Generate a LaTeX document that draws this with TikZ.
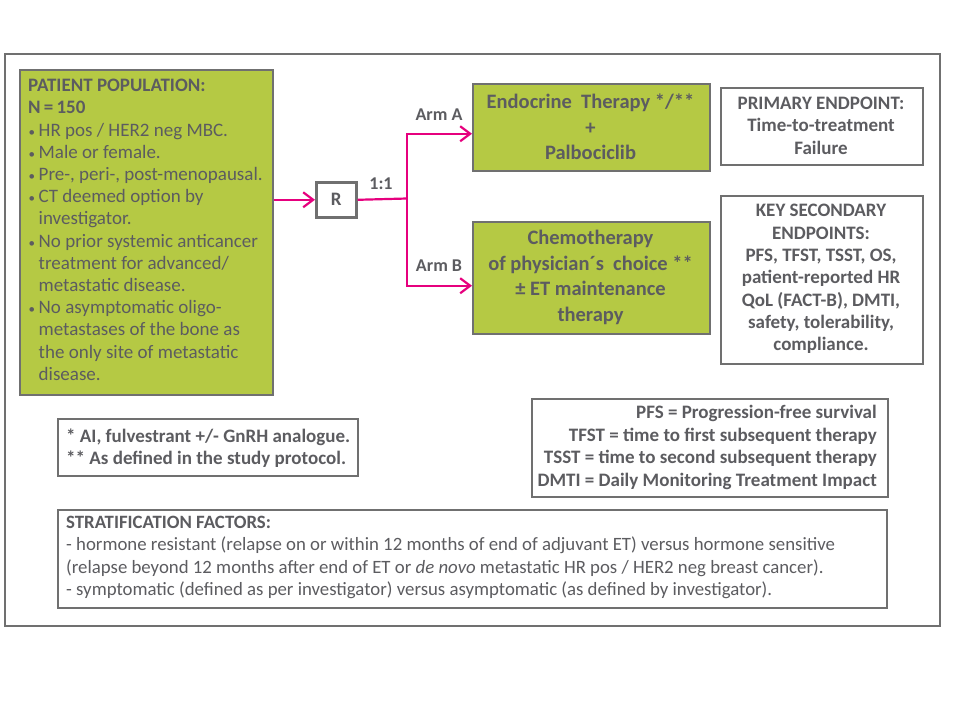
\documentclass[tikz,border=0pt]{standalone}
\usepackage{fontspec}
\setmainfont{Carlito}
\usetikzlibrary{arrows.meta}
\definecolor{grn}{RGB}{181,201,68}
\definecolor{bord}{RGB}{112,112,112}
\definecolor{txt}{RGB}{92,92,96}
\definecolor{mag}{RGB}{230,0,126}
\newcommand{\bl}{\makebox[10.5pt][l]{\hspace{0.5pt}\fontsize{13}{13}\selectfont •}}
\newcommand{\ind}{\hspace*{10.5pt}}
\begin{document}
\begin{tikzpicture}[x=1pt,y=-1pt,
  box/.style={draw=bord,line width=1.5pt,inner sep=0pt,anchor=north west},
  gbox/.style={box,fill=grn},
  wbox/.style={box,fill=white},
  tnode/.style={text=txt,inner sep=0pt},
  lnk/.style={draw=mag,line width=2.2pt},
  arr/.style={lnk,-{Straight Barb[length=10pt,width=15pt,line width=2.2pt]}},
  ]
\useasboundingbox (0,0) rectangle (960,720);
\node[box,minimum width=935pt,minimum height=572pt] (frame) at (4,53) {};
% patient population
\node[gbox,minimum width=253pt,minimum height=325pt] (pat) at (19,69) {};
\node[tnode,anchor=north west,align=left,font=\fontsize{19}{22.2}\selectfont] (pattxt) at (28,79)
 {\textbf{PATIENT POPULATION:}\\
  \textbf{N\,=\,150}\\
  \bl HR pos / HER2 neg MBC.\\
  \bl Male or female.\\
  \bl Pre-, peri-, post-menopausal.\\
  \bl CT deemed option by\\
  \ind investigator.\\
  \bl No prior systemic anticancer\\
  \ind treatment for advanced/\\
  \ind metastatic disease.\\
  \bl No asymptomatic oligo-\\
  \ind metastases of the bone as\\
  \ind the only site of metastatic\\
  \ind disease.};
% R
\node[wbox,line width=2.6pt,minimum width=40pt,minimum height=35pt,font=\bfseries\fontsize{19}{20}\selectfont,text=txt] (R) at (315,181) {R};
% arms
\node[gbox,minimum width=237pt,minimum height=87pt] (armA) at (472,83) {};
\node[tnode,align=center,font=\bfseries\fontsize{20.5}{25.5}\selectfont] (armAtxt) at (590.5,127)
 {Endocrine\ \ Therapy */**\\+\\Palbociclib};
\node[gbox,minimum width=237pt,minimum height=112pt] (armB) at (472,221) {};
\node[tnode,align=center,font=\bfseries\fontsize{20.5}{25.5}\selectfont] (armBtxt) at (590.5,277.5)
 {Chemotherapy\\of physician´s\ \ choice **\\± ET maintenance\\therapy};
% endpoints
\node[wbox,minimum width=202pt,minimum height=77pt] (prim) at (720,87) {};
\node[tnode,align=center,font=\bfseries\fontsize{19}{22.5}\selectfont] (primtxt) at (821,125.5)
 {PRIMARY ENDPOINT:\\Time-to-treatment\\Failure};
\node[wbox,minimum width=202pt,minimum height=168pt] (sec) at (720,195) {};
\node[tnode,align=center,font=\bfseries\fontsize{19}{22.3}\selectfont] (sectxt) at (821,279)
 {KEY SECONDARY\\ENDPOINTS:\\PFS, TFST, TSST, OS,\\patient-reported HR\\QoL (FACT-B), DMTI,\\safety, tolerability,\\compliance.};
% footnotes
\node[wbox,minimum width=300pt,minimum height=57pt] (foot) at (57,418) {};
\node[tnode,anchor=west,align=left,font=\bfseries\fontsize{19}{22.5}\selectfont] (foottxt) at (66,448)
 {* AI, fulvestrant +/- GnRH analogue.\\** As defined in the study protocol.};
\node[wbox,minimum width=356pt,minimum height=98pt] (abbr) at (531,398) {};
\node[tnode,anchor=east,align=right,font=\bfseries\fontsize{19}{22.5}\selectfont] (abbrtxt) at (877,447.5)
 {PFS = Progression-free survival\\TFST = time to first subsequent therapy\\TSST = time to second subsequent therapy\\DMTI = Daily Monitoring Treatment Impact};
\node[wbox,minimum width=829pt,minimum height=98pt] (strat) at (57,509) {};
\node[tnode,anchor=west,align=left,font=\fontsize{18.8}{22.5}\selectfont] (strattxt) at (66,557.5)
 {\textbf{STRATIFICATION FACTORS:}\\
 - hormone resistant (relapse on or within 12 months of end of adjuvant ET) versus hormone sensitive\\
 (relapse beyond 12 months after end of ET or \textit{de novo} metastatic HR pos / HER2 neg breast cancer).\\
 - symptomatic (defined as per investigator) versus asymptomatic (as defined by investigator).};
% connectors
\coordinate (j) at (407,198.5);
\draw[arr] (R.west -| pat.east) -- (R.west);
\draw[lnk] (R.east) -- (j);
\draw[arr] (j) |- ([yshift=-6.5pt]armA.west);
\draw[arr] (j) |- ([yshift=-8pt]armB.west);
% labels
\node[tnode,font=\bfseries\fontsize{18}{20}\selectfont] (ratio) at (381,184) {1:1};
\node[tnode,font=\bfseries\fontsize{18}{20}\selectfont] (labA) at (439,115) {Arm A};
\node[tnode,font=\bfseries\fontsize{18}{20}\selectfont] (labB) at (439,266) {Arm B};
\end{tikzpicture}
\end{document}
